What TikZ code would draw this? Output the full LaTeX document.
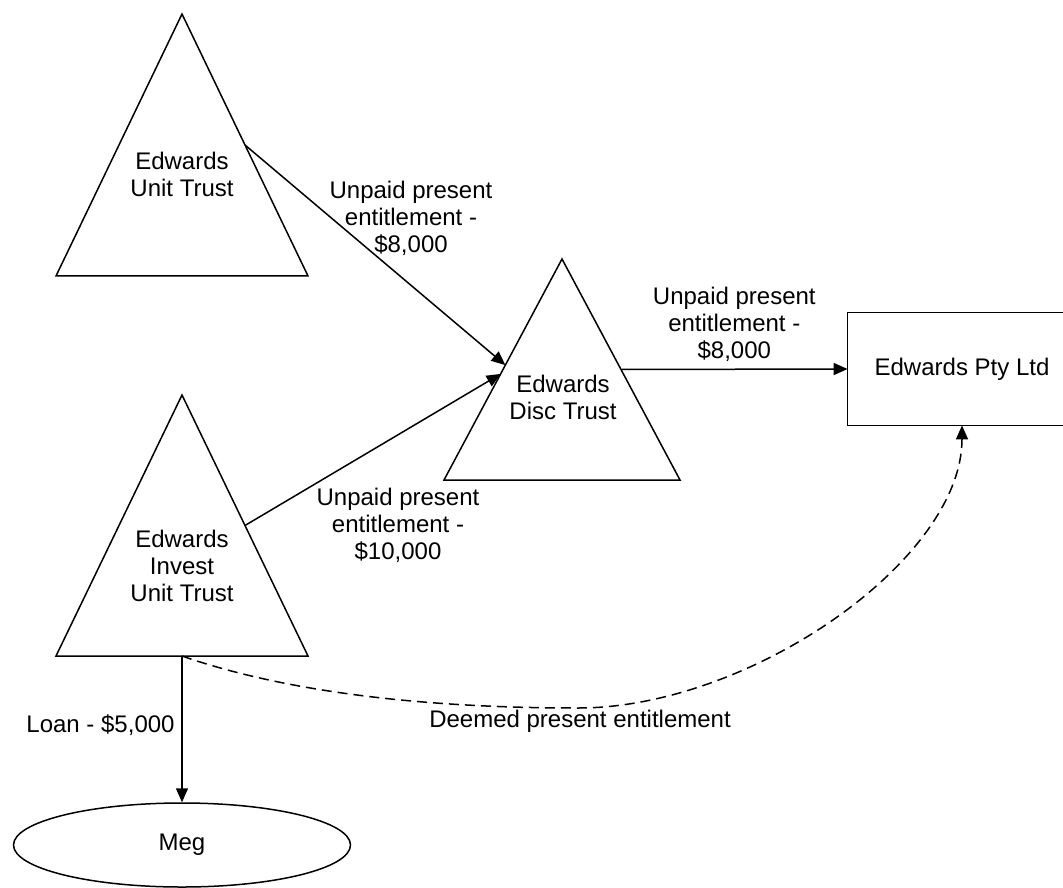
\documentclass[tikz,border=0pt]{standalone}
\usepackage{fontspec}
\setmainfont{Liberation Sans}
\usepackage{tikz}
\usetikzlibrary{shapes.geometric, arrows.meta, calc}
\tikzset{trust/.style={draw=black, line width=0.75pt, line join=miter}, lbl/.style={align=center}}
\tikzset{
    flow/.style={draw=black, line width=0.75pt, -{Triangle[length=7pt,width=6pt]}},
    deemed/.style={flow, dash pattern=on 5pt off 3pt},
}

\begin{document}
\begin{tikzpicture}[x=0.5pt, y=-0.5pt, every node/.style={font=\fontsize{12}{13.5}\selectfont}]
            \useasboundingbox (0,0) rectangle (1063,887);
            % trusts
            \draw[trust](182,14) coordinate (eut top)--(308,276) coordinate (eut right)--(56,276) coordinate (eut left)--cycle;
            \draw[trust](562,259) coordinate (edt top)--(680,480) coordinate (edt right)--(444,480) coordinate (edt left)--cycle;
            \draw[trust](182,395) coordinate (eiut top)--(308,656) coordinate (eiut right)--(56,656) coordinate (eiut left)--cycle;
            \coordinate (eiut base) at ($(eiut left)!0.5!(eiut right)$);
            \node[lbl] (eut) at (182,174) {Edwards\\Unit Trust};
            \node[lbl] (edt) at (563,397) {Edwards\\Disc Trust};
            \node[lbl] (eiut) at (182,566) {Edwards\\Invest\\Unit Trust};
            \node[minimum width=114pt, minimum height=56pt] (pty) at (962,369) {Edwards Pty Ltd};
            \draw[trust](pty.south west) rectangle ($(pty.north east)+(40,0)$);
            \node[draw, ellipse, line width=0.75pt, minimum width=168.5pt, minimum height=42pt] (meg) at (182,845) {Meg};
            % entitlements
            \draw[flow]($(eut top)!0.5!(eut right)$)--($(edt top)!0.48!(edt left)$);
            \draw[flow]($(eiut top)!0.5!(eiut right)$)--($(edt top)!0.52!(edt left)$);
            \draw[flow]($(edt top)!0.5!(edt right)$)--node[lbl, above]{Unpaid present\\entitlement -\\\$8,000}(pty.west);
            \node[lbl] (upe1) at (411,218) {Unpaid present\\entitlement -\\\$8,000};
            \node[lbl] (upe2) at (398,525) {Unpaid present\\entitlement -\\\$10,000};
            \draw[flow](eiut base)--node[left, pos=0.47]{Loan - \$5,000}(meg.north);
            \coordinate (dip) at (578,708);
            \draw[deemed](eiut base) .. controls (300,697) and (450,708) .. (dip) .. controls (750,708) and (962,560) .. (pty.south);
            \node[lbl] (dpe) at (580,721) {Deemed present entitlement};
        \end{tikzpicture}
\end{document}
